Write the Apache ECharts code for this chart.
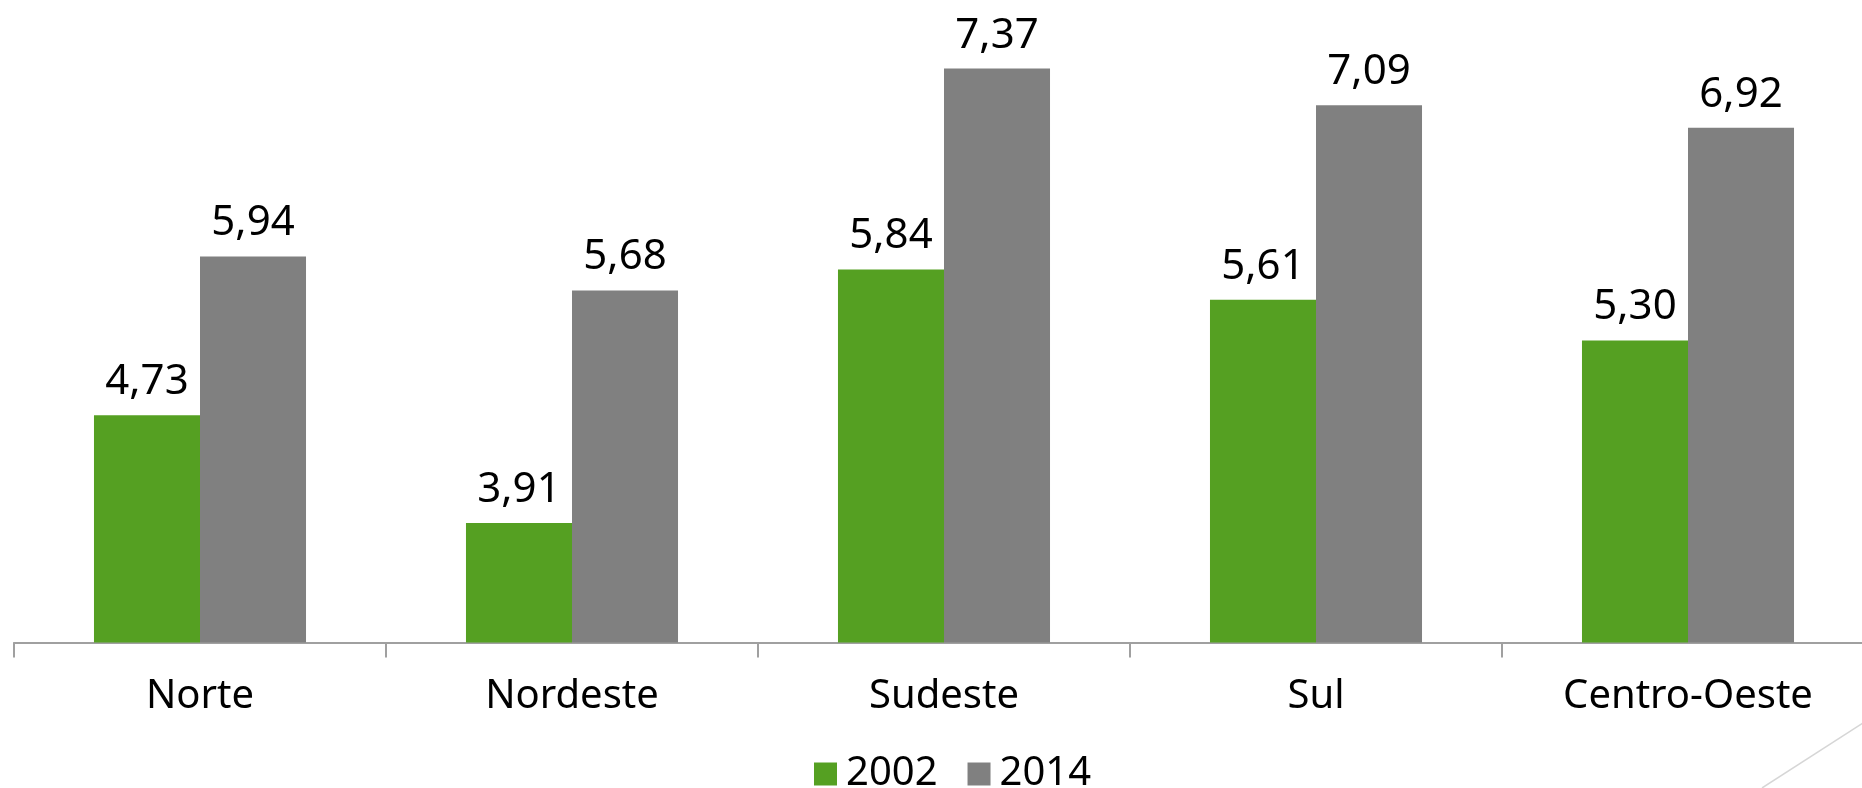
<!DOCTYPE html>
<html>
<head>
<meta charset="utf-8">
<script src="https://cdn.jsdelivr.net/npm/echarts@6/dist/echarts.min.js"></script>
<style>
  html, body { margin: 0; padding: 0; background: #fff; }
  #main { width: 1862px; height: 788px; }
</style>
</head>
<body>
<div id="main"></div>
<script>
var regioes = ['Norte', 'Nordeste', 'Sudeste', 'Sul', 'Centro-Oeste'];
var anos = ['2002', '2014'];
var valores2002 = [4.73, 3.91, 5.84, 5.61, 5.30];
var valores2014 = [5.94, 5.68, 7.37, 7.09, 6.92];

var myChart = echarts.init(document.getElementById('main'));

var fonte = '"Noto Sans", sans-serif';

function virgula(p) {
  return p.value.toFixed(2).replace('.', ',');
}

var option = {
  animation: false,
  textStyle: { fontFamily: fonte },
  grid: { left: 14, width: 1860, top: 51.5, height: 591, outerBoundsMode: 'none', containLabel: false },
  legend: {
    data: anos,
    left: 809,
    top: 749,
    icon: 'rect',
    itemWidth: 23,
    itemHeight: 23,
    itemGap: 30,
    textStyle: { fontSize: 40, color: '#000', fontFamily: fonte, padding: [0, 0, 0, 4] }
  },
  xAxis: {
    type: 'category',
    data: regioes,
    axisLine: { show: true, lineStyle: { color: '#a0a0a0', width: 2 } },
    axisTick: { show: true, interval: 0, length: 15, lineStyle: { color: '#a0a0a0', width: 2 } },
    axisLabel: { fontSize: 40, color: '#000', margin: 34, fontFamily: fonte }
  },
  yAxis: {
    type: 'value',
    min: 3,
    max: 7.5,
    show: false,
    splitLine: { show: false }
  },
  series: [
    {
      name: '2002',
      type: 'bar',
      data: valores2002,
      barGap: '0%',
      barCategoryGap: '43%',
      itemStyle: { color: '#55a022' },
      label: { show: true, position: 'top', distance: 12, fontSize: 42, color: '#000', formatter: virgula, fontFamily: fonte }
    },
    {
      name: '2014',
      type: 'bar',
      data: valores2014,
      barGap: '0%',
      barCategoryGap: '43%',
      itemStyle: { color: '#808080' },
      label: { show: true, position: 'top', distance: 12, fontSize: 42, color: '#000', formatter: virgula, fontFamily: fonte }
    }
  ],
  graphic: [
    {
      type: 'line',
      shape: { x1: 1762, y1: 788, x2: 1866, y2: 721 },
      style: { stroke: '#d6d6d6', lineWidth: 1.5 },
      silent: true
    }
  ]
};

myChart.setOption(option);
</script>
</body>
</html>
